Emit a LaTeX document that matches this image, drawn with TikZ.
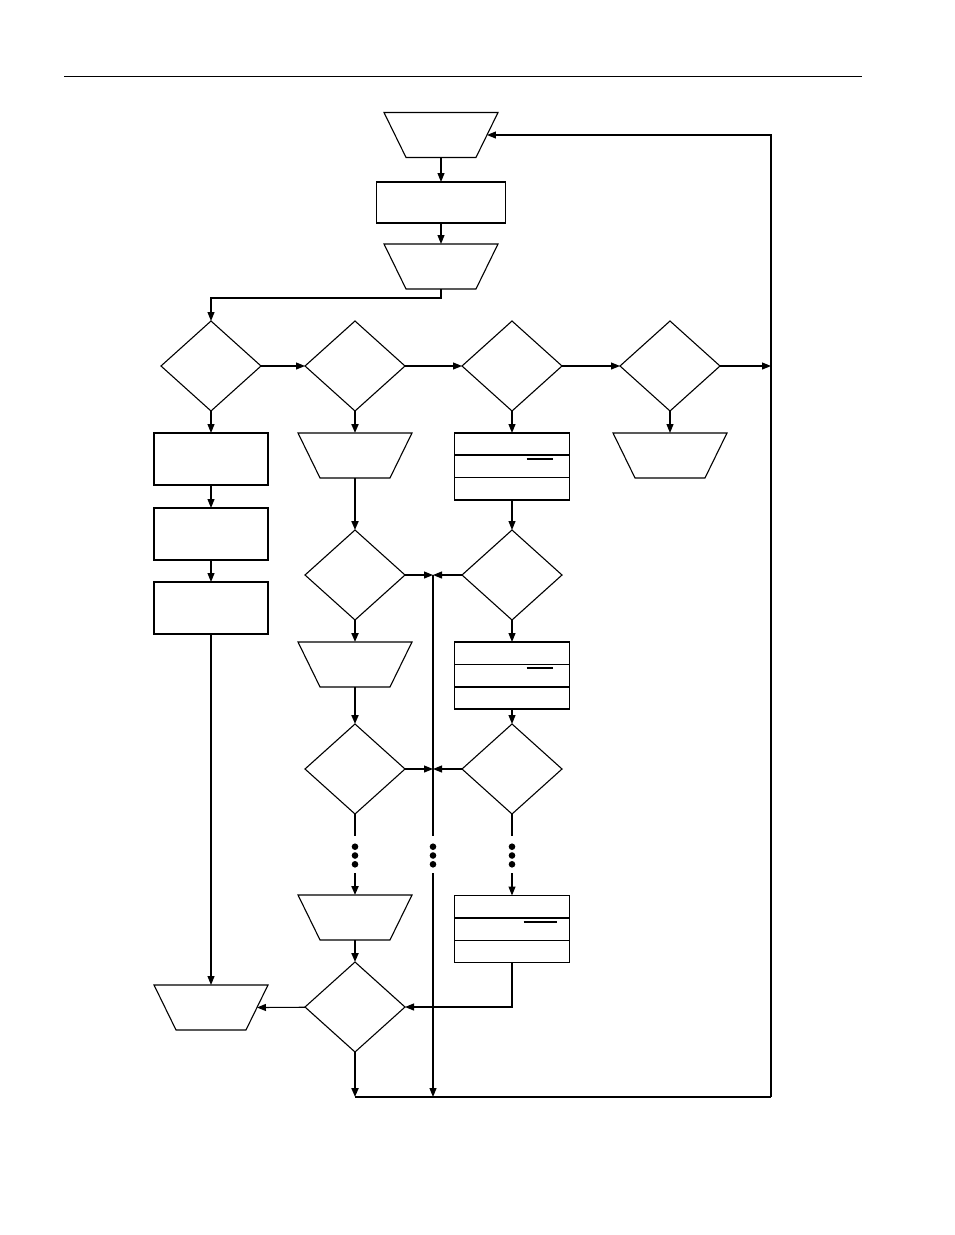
\documentclass[tikz,border=0pt]{standalone}
\usetikzlibrary{arrows.meta,shapes.geometric,calc}
\begin{document}
\begin{tikzpicture}[x=1pt,y=-1pt,
  every node/.style={inner sep=0pt,outer sep=0pt,line width=1.1pt},
  dec/.style={draw,diamond,minimum width=100pt,minimum height=90pt},
  proc/.style={draw,rectangle,minimum width=114pt,minimum height=52pt},
  ioshape/.style={draw,trapezium,shape border rotate=180,trapezium stretches=true,inner sep=3pt,
     trapezium left angle=72.5,trapezium right angle=72.5,minimum width=114pt,minimum height=45pt},
  splitbox/.style={draw,rectangle,minimum width=115pt,minimum height=67pt},
  conn/.style={line width=1.1pt},
  arr/.style={conn,-{Triangle[length=9pt,width=7pt]}},
  thk/.style={line width=2pt},
  dotmark/.style={fill=black,circle,minimum size=6.6pt}
]
\useasboundingbox (0,0) rectangle (954,1235);
\draw[line width=1pt] (64,76) -- (862,76);

% top column
\node[ioshape] (t1) at (441,135) {};
\node[draw,rectangle,minimum width=129pt,minimum height=41pt] (r0) at (441,202.5) {};
\node[ioshape] (t2) at (441,266.5) {};

% decision row
\node[dec] (d1) at (211,366) {};
\node[dec] (d2) at (355,366) {};
\node[dec] (d3) at (512,366) {};
\node[dec] (d4) at (670,366) {};

% column 1
\node[proc] (pa) at (211,459) {};
\node[proc] (pb) at (211,534) {};
\node[proc] (pc) at (211,608) {};
\node[ioshape] (tL) at (211,1007.5) {};

% column 2
\node[ioshape] (c2a) at (355,455.5) {};
\node[dec] (d5) at (355,575) {};
\node[ioshape] (c2b) at (355,664.5) {};
\node[dec] (d6) at (355,769) {};
\node[ioshape] (c2c) at (355,917.5) {};
\node[dec] (d7) at (355,1007) {};

% column 4
\node[splitbox] (s1) at (512,466.5) {};
\node[dec] (d8) at (512,575) {};
\node[splitbox] (s2) at (512,675.5) {};
\node[dec] (d9) at (512,769) {};
\node[splitbox] (s3) at (512,929) {};

\node[ioshape] (t4) at (670,455.5) {};

% split box internals
\draw[line width=1.8pt] ($(s1.north west)!1/3!(s1.south west)$) -- ($(s1.north east)!1/3!(s1.south east)$);
\draw[conn] ($(s1.north west)!2/3!(s1.south west)$) -- ($(s1.north east)!2/3!(s1.south east)$);
\draw[line width=1.8pt] (s1.north east) -- (s1.south east);
\draw[conn] ($(s1.west)+(72,-7.5)$) -- ($(s1.west)+(98,-7.5)$);

\draw[conn] ($(s2.north west)!1/3!(s2.south west)$) -- ($(s2.north east)!1/3!(s2.south east)$);
\draw[line width=1.8pt] ($(s2.north west)!2/3!(s2.south west)$) -- ($(s2.north east)!2/3!(s2.south east)$);
\draw[conn] ($(s2.west)+(72,-7.5)$) -- ($(s2.west)+(98,-7.5)$);

\draw[line width=1.8pt] ($(s3.north west)!1/3!(s3.south west)$) -- ($(s3.north east)!1/3!(s3.south east)$);
\draw[conn] ($(s3.north west)!2/3!(s3.south west)$) -- ($(s3.north east)!2/3!(s3.south east)$);
\draw[line width=1.8pt] (s3.south west) -- (s3.south east);
\draw[conn] ($(s3.west)+(69,-7)$) -- ($(s3.west)+(102,-7)$);

% coordinates
\coordinate (loopTR) at (771,135);
\coordinate (loopMR) at (771,366);
\coordinate (loopBR) at (771,1097);
\coordinate (botL) at (355,1097);
\coordinate (mid1) at (433,575);
\coordinate (mid2) at (433,769);
\coordinate (midA) at (433,836);
\coordinate (midB) at (433,873);
\coordinate (midE) at (433,1097);
\coordinate (c2dotA) at (355,836);
\coordinate (c2dotB) at (355,873);
\coordinate (c4dotA) at (512,836);
\coordinate (c4dotB) at (512,873);
\coordinate (s3turn) at (512,1007);

% top connectors
\draw[arr] (t1) -- (r0);
\draw[arr] (r0) -- (t2);
\draw[arr] (t2.south) |- (441,298) -| (d1.north);
\draw[arr] (d1) -- (d2);
\draw[arr] (d2) -- (d3);
\draw[arr] (d3) -- (d4);
\draw[arr] (d4) -- (loopMR);
\draw[arr] (loopBR) -- (loopTR) -- (t1.east);
\draw[conn] (botL) -- (loopBR);

% column 1
\draw[arr] (d1) -- (pa);
\draw[arr] (pa) -- (pb);
\draw[arr] (pb) -- (pc);
\draw[arr] (pc) -- (tL);

% column 2
\draw[arr,thk] (d2) -- (c2a);
\draw[arr,thk] (c2a) -- (d5);
\draw[arr,thk] (d5) -- (c2b);
\draw[arr,thk] (c2b) -- (d6);
\draw[thk] (d6.south) -- (c2dotA);
\draw[arr,thk] (c2dotB) -- (c2c);
\draw[arr,thk] (c2c) -- (d7);
\draw[arr] (d7) -- (tL.east);
\draw[arr,thk] (d7.south) -- (botL);

% middle line
\draw[arr] (d5) -- (mid1);
\draw[arr] (d8) -- (mid1);
\draw[arr] (d6) -- (mid2);
\draw[arr] (d9) -- (mid2);
\draw[conn] (mid1) -- (midA);
\draw[arr] (midB) -- (midE);

% column 4
\draw[arr] (d3) -- (s1);
\draw[arr] (s1) -- (d8);
\draw[arr] (d8) -- (s2);
\draw[arr] (s2) -- (d9);
\draw[conn] (d9.south) -- (c4dotA);
\draw[arr] (c4dotB) -- (s3);
\draw[arr] (s3.south) -- (s3turn) -- (d7.east);

\draw[arr] (d4) -- (t4);

% dots
\foreach \xx/\nm in {355/a,433/b,512/c}{
  \node[dotmark] (dot\nm1) at (\xx,846.7) {};
  \node[dotmark] (dot\nm2) at (\xx,855.5) {};
  \node[dotmark] (dot\nm3) at (\xx,864.3) {};
}
\end{tikzpicture}
\end{document}
